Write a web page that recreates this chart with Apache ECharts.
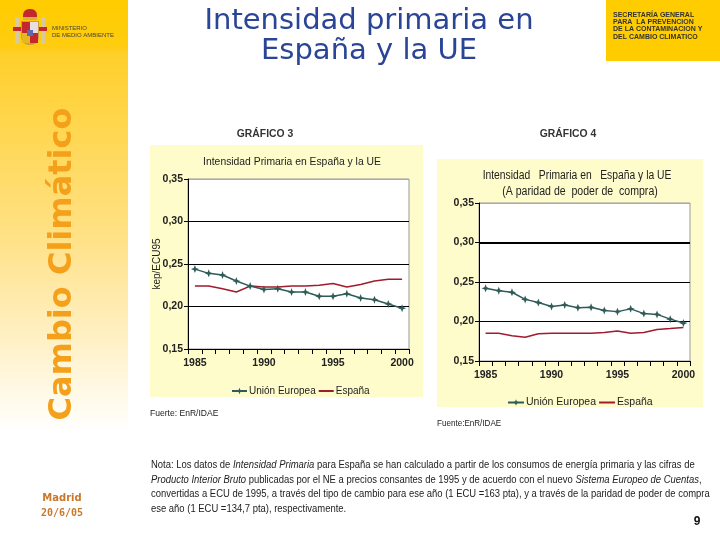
<!DOCTYPE html>
<html><head><meta charset="utf-8">
<script src="https://cdn.jsdelivr.net/npm/echarts@6/dist/echarts.min.js"></script>
<style>html,body{margin:0;padding:0;background:#fff}#c{width:720px;height:540px}</style>
</head><body><div id="c"></div><script>
// ---- data ----
const years = ['1985','1986','1987','1988','1989','1990','1991','1992','1993','1994','1995','1996','1997','1998','1999','2000'];
const ue3 = [0.244,0.239,0.237,0.230,0.224,0.220,0.221,0.217,0.217,0.212,0.212,0.215,0.210,0.208,0.203,0.198];
const es3 = [0.224,0.224,0.221,0.217,0.224,0.223,0.223,0.224,0.224,0.225,0.227,0.223,0.226,0.230,0.232,0.232];
const ue4 = [0.242,0.239,0.237,0.228,0.224,0.219,0.221,0.2175,0.218,0.214,0.2125,0.216,0.210,0.209,0.203,0.198];
const es4 = [0.185,0.185,0.182,0.180,0.1846,0.185,0.185,0.185,0.185,0.186,0.188,0.185,0.186,0.190,0.191,0.1925];
const yMin = 0.15, yMax = 0.35, yStep = 0.05;
const seriesNames = ['Unión Europea','España'];

const NARROW = '"Liberation Sans Narrow","Arial Narrow","Liberation Sans",sans-serif';
const UE_COLOR = '#2F5B58', ES_COLOR = '#A01B2E';
const STAR = 'path://M0,-5 L1.4,-1.4 L5,0 L1.4,1.4 L0,5 L-1.4,1.4 L-5,0 L-1.4,-1.4 Z';

function xAxis(gi){
  return {type:'category', gridIndex:gi, data:years, boundaryGap:true,
    axisLine:{lineStyle:{color:'#000',width:1}},
    axisTick:{show:true, interval:0, length:5, lineStyle:{color:'#000'}},
    axisLabel:{interval:(i)=>i%5===0, color:'#222', fontFamily:NARROW, fontSize:10.5, fontWeight:'bold', margin:9},
    splitLine:{show:false}};
}
function yAxis(gi, name){
  return {type:'value', gridIndex:gi, min:yMin, max:yMax, interval:yStep,
    name:name, nameLocation:'middle', nameRotate:90, nameGap:26, nameMoveOverlap:false,
    nameTextStyle:{color:'#222', fontFamily:NARROW, fontSize:10},
    axisLine:{show:true, lineStyle:{color:'#000'}},
    axisTick:{show:true, length:4, lineStyle:{color:'#000'}},
    axisLabel:{formatter:v=>v.toFixed(2).replace('.',','), color:'#222', fontFamily:NARROW, fontSize:10.5, fontWeight:'bold', margin:5},
    splitLine:{show:true, lineStyle:{color:['#000','#000','#000','#000','#aaa'], width:1}}};
}
function ueSeries(gi, data){
  return {name:seriesNames[0], type:'line', xAxisIndex:gi, yAxisIndex:gi, data:data,
    symbol:STAR, symbolSize:8, showSymbol:true, color:UE_COLOR,
    lineStyle:{color:UE_COLOR, width:1.5}, itemStyle:{color:UE_COLOR}, z:5};
}
function esSeries(gi, data, extra){
  return Object.assign({name:seriesNames[1], type:'line', xAxisIndex:gi, yAxisIndex:gi, data:data,
    symbol:'none', showSymbol:false, color:ES_COLOR,
    lineStyle:{color:ES_COLOR, width:1.5}, z:4}, extra||{});
}
function legendData(){
  return [{name:seriesNames[0]}, {name:seriesNames[1], itemStyle:{opacity:0}}];
}

const txt = (x,y,text,style,extra)=>Object.assign({type:'text', x:x, y:y, z:100, style:Object.assign({text:text, fill:'#222'}, style)}, extra||{});

const graphics = [
  // sidebar
  {type:'rect', z:-20, shape:{x:0,y:0,width:128,height:540},
    style:{fill:new echarts.graphic.LinearGradient(0,0,0,1,[
      {offset:0,color:'#FFCC00'},{offset:0.085,color:'#FFCC10'},{offset:0.1,color:'#FFCF2A'},
      {offset:0.45,color:'#FFE28A'},{offset:0.8,color:'#FFFFFF'},{offset:1,color:'#FFFFFF'}])}},
  // logo (simplified coat of arms)
  {type:'rect', z:-5, shape:{x:15,y:17,width:4,height:27}, style:{fill:'#D9C9A0'}},
  {type:'rect', z:-5, shape:{x:41,y:17,width:4,height:27}, style:{fill:'#D9C9A0'}},
  {type:'rect', z:-4, shape:{x:13,y:27,width:8,height:4}, style:{fill:'#C4272E'}},
  {type:'rect', z:-4, shape:{x:39,y:27,width:8,height:4}, style:{fill:'#C4272E'}},
  {type:'rect', z:-5, shape:{x:21,y:21,width:18,height:24,r:[0,0,8,8]}, style:{fill:'#C8A040'}},
  {type:'rect', z:-4, shape:{x:22,y:22,width:8,height:11}, style:{fill:'#C4272E'}},
  {type:'rect', z:-4, shape:{x:30,y:22,width:8,height:11}, style:{fill:'#E8DDE8'}},
  {type:'rect', z:-4, shape:{x:22,y:33,width:8,height:10}, style:{fill:'#E4B820'}},
  {type:'rect', z:-4, shape:{x:30,y:33,width:8,height:10}, style:{fill:'#C4272E'}},
  {type:'rect', z:-4, shape:{x:27,y:30,width:6,height:6}, style:{fill:'#5A6BB0'}},
  {type:'rect', z:-5, shape:{x:23,y:9,width:14,height:11,r:[6,6,0,0]}, style:{fill:'#C4272E'}},
  {type:'rect', z:-4, shape:{x:23,y:17,width:14,height:3}, style:{fill:'#D8B040'}},
  txt(52,25,'MINISTERIO',{font:'6px "Liberation Sans"', fill:'#444'}),
  txt(52,32,'DE MEDIO AMBIENTE',{font:'6px "Liberation Sans"', fill:'#444'}),
  // sidebar vertical title
  txt(63,264,'Cambio Climático',{font:'bold 32px "DejaVu Sans"', fill:'#F5A01A', textAlign:'center', textVerticalAlign:'middle'},{rotation:Math.PI/2}),
  txt(62,498,'Madrid',{font:'bold 10px "DejaVu Sans"', fill:'#C9782B', textAlign:'center', textVerticalAlign:'middle'}),
  txt(62,513,'20/6/05',{font:'bold 10px "DejaVu Sans Mono"', fill:'#C9782B', textAlign:'center', textVerticalAlign:'middle'}),
  // header
  txt(369,21,'Intensidad primaria en',{font:'29px "DejaVu Sans"', fill:'#2A4596', textAlign:'center', textVerticalAlign:'middle'}),
  txt(369,51,'España y la UE',{font:'29px "DejaVu Sans"', fill:'#2A4596', textAlign:'center', textVerticalAlign:'middle'}),
  {type:'rect', z:-10, shape:{x:606,y:0,width:114,height:61}, style:{fill:'#FFCC00'}},
  txt(613,15,'SECRETARÍA GENERAL',{font:'bold 7px "Liberation Sans"', fill:'#333', textVerticalAlign:'middle'}),
  txt(613,22.3,'PARA  LA PREVENCION',{font:'bold 7px "Liberation Sans"', fill:'#333', textVerticalAlign:'middle'}),
  txt(613,29.5,'DE LA CONTAMINACION Y',{font:'bold 7px "Liberation Sans"', fill:'#333', textVerticalAlign:'middle'}),
  txt(613,36.8,'DEL CAMBIO CLIMATICO',{font:'bold 7px "Liberation Sans"', fill:'#333', textVerticalAlign:'middle'}),
  // chart 3 frame
  txt(265,134,'GRÁFICO 3',{font:'bold 11.5px '+NARROW, fill:'#333', textAlign:'center', textVerticalAlign:'middle'},{scaleX:0.9}),
  {type:'rect', z:-10, shape:{x:150,y:145,width:273,height:252}, style:{fill:'#FFFCCB'}},
  txt(292,162,'Intensidad Primaria en España y la UE',{font:'11.5px '+NARROW, fill:'#222', textAlign:'center', textVerticalAlign:'middle'},{scaleX:0.9}),
  txt(150,413,'Fuerte: EnR/IDAE',{font:'9.5px '+NARROW, fill:'#222', textVerticalAlign:'middle'},{scaleX:0.9}),
  // chart 4 frame
  txt(568,134,'GRÁFICO 4',{font:'bold 11.5px '+NARROW, fill:'#333', textAlign:'center', textVerticalAlign:'middle'},{scaleX:0.9}),
  {type:'rect', z:-10, shape:{x:437,y:159,width:266,height:248}, style:{fill:'#FFFCCB'}},
  txt(577,176,'Intensidad   Primaria en   España y la UE',{font:'12px '+NARROW, fill:'#222', textAlign:'center', textVerticalAlign:'middle'},{scaleX:0.86}),
  txt(580,192,'(A paridad de  poder de  compra)',{font:'12px '+NARROW, fill:'#222', textAlign:'center', textVerticalAlign:'middle'},{scaleX:0.88}),
  txt(437,423,'Fuente:EnR/IDAE',{font:'9.5px '+NARROW, fill:'#222', textVerticalAlign:'middle'},{scaleX:0.85}),
  // note
  {type:'text', z:100, x:151, y:458, scaleX:0.9, style:{
    text:'{n|Nota: Los datos de }{i|Intensidad Primaria}{n| para España se han calculado a partir de los consumos de energía primaria y las cifras de}\n'+
         '{i|Producto Interior Bruto}{n| publicadas por el NE a precios consantes de 1995 y de acuerdo con el nuevo }{i|Sistema Europeo de Cuentas}{n|,}\n'+
         '{n|convertidas a ECU de 1995, a través del tipo de cambio para ese año (1 ECU =163 pta), y a través de la paridad de poder de compra}\n'+
         '{n|ese año (1 ECU =134,7 pta), respectivamente.}',
    lineHeight:14.5,
    rich:{n:{font:'10.5px '+NARROW, fill:'#222', lineHeight:14.5}, i:{font:'italic 10.5px '+NARROW, fill:'#222', lineHeight:14.5}}}},
  txt(697,522,'9',{font:'bold 12px "Liberation Sans"', fill:'#111', textAlign:'center', textVerticalAlign:'middle'})
];

const chart = echarts.init(document.getElementById('c'), null, {renderer:'canvas'});
chart.setOption({
  backgroundColor:'transparent',
  animation:false,
  grid:[
    {left:188, top:179, width:221, height:170, show:true, backgroundColor:'#fff', borderColor:'#999', borderWidth:1},
    {left:479, top:203, width:211, height:158, show:true, backgroundColor:'#fff', borderColor:'#999', borderWidth:1}
  ],
  xAxis:[xAxis(0), xAxis(1)],
  yAxis:[yAxis(0,'kep/ECU95'), yAxis(1,'')],
  legend:[
    {left:226, top:381, itemWidth:15, itemHeight:8, itemGap:2, data:legendData(),
      textStyle:{fontFamily:NARROW, fontSize:10, color:'#222', padding:[0,0,0,-3]}},
    {left:502, top:392, itemWidth:16, itemHeight:8, itemGap:2, data:legendData(),
      textStyle:{fontFamily:NARROW, fontSize:10.5, color:'#222', padding:[0,0,0,-3]}}
  ],
  series:[
    ueSeries(0, ue3), esSeries(0, es3),
    ueSeries(1, ue4),
    esSeries(1, es4, {markLine:{silent:true, symbol:'none', label:{show:false},
      lineStyle:{color:'#000', width:2, type:'solid'}, data:[{yAxis:0.30}]}})
  ],
  graphic:graphics
});
</script></body></html>
